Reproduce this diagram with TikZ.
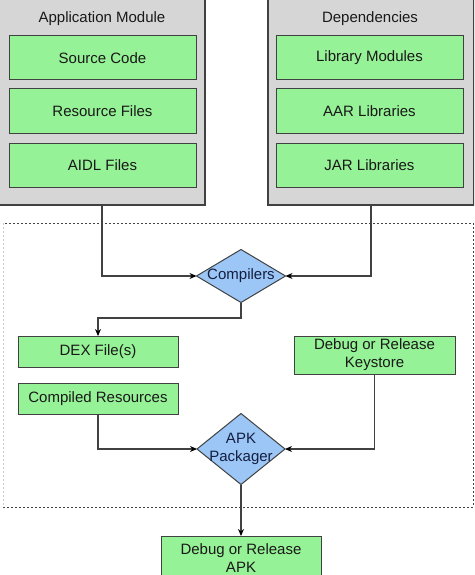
\documentclass[tikz,border=0pt]{standalone}
\usepackage{fontspec}
\setmainfont{Liberation Sans}
\usepackage{tikz}
\usetikzlibrary{arrows.meta}
\usetikzlibrary{shapes.geometric}

\definecolor{boxgreen}{RGB}{150,242,150}
\definecolor{boxgrey}{RGB}{214,214,214}
\definecolor{diablue}{RGB}{155,198,245}
\definecolor{linegrey}{RGB}{65,65,65}
\definecolor{textnavy}{RGB}{20,30,65}

\begin{document}
\begin{tikzpicture}[x=1pt,y=-1pt,
    every node/.style={font=\fontsize{15}{18}\selectfont, text=black!90},
    module/.style={draw=linegrey, fill=boxgrey, line width=1.2pt, minimum width=206pt, minimum height=215pt, inner sep=0pt, outer sep=0pt},
    filebox/.style={draw=linegrey, fill=boxgreen, line width=1pt, minimum width=187pt, minimum height=44pt, inner sep=0pt, outer sep=0pt, align=center},
    outbox/.style={draw=linegrey, fill=boxgreen, line width=1pt, minimum width=160pt, minimum height=31pt, inner sep=0pt, outer sep=0pt, align=center},
    tool/.style={diamond, draw=linegrey, fill=diablue, line width=1pt, inner sep=0pt, outer sep=0pt},
    flow/.style={draw=linegrey, line width=1.1pt, -{Stealth[length=7pt,width=6pt,black]}}]
          \clip (0,0) rectangle (474,575);
          \fill[white] (0,0) rectangle (474,575);
          % build group
          \draw[linegrey, line width=0.9pt, dash pattern=on 2pt off 2pt] (3,507) -- (473,507) -- (473,223) -- (3,223);
          \draw[black!20, line width=0.9pt, dash pattern=on 2pt off 2pt] (3,223) -- (3,507);
          % Application Module
          \node[module] (appmod) at (102,97.5) {};
          \node (appmodtitle) at (102,19) {Application Module};
          \node[filebox] (src) at (102.5,58) {Source Code};
          \node[filebox] (res) at (102.5,111) {Resource Files};
          \node[filebox] (aidl) at (102.5,165) {AIDL Files};
          % Dependencies
          \node[module] (deps) at (371,97.5) {};
          \node (depstitle) at (370,19) {Dependencies};
          \node[filebox] (libmod) at (369.5,58) {Library Modules};
          \node[filebox] (aar) at (369.5,111) {AAR Libraries};
          \node[filebox] (jar) at (369.5,165) {JAR Libraries};
          % Compilers
          \node[tool, minimum width=89pt, minimum height=53pt,
                label={[text=textnavy]center:Compilers}] (comp) at (241,276) {};
          % outputs of the compilers
          \node[outbox] (dex) at (98,351.5) {DEX File(s)};
          \node[outbox] (cres) at (98,398.5) {Compiled Resources};
          \node[outbox, minimum width=161pt, minimum height=38pt] (keystore) at (374.5,355) {Debug or Release\\Keystore};
          % APK Packager
          \node[tool, minimum width=88pt, minimum height=71pt,
                label={[text=textnavy, align=center]center:APK\\Packager}] (pack) at (241,449) {};
          % final APK
          \node[outbox, minimum height=44pt] (apk) at (241,558) {Debug or Release\\APK};
          % line between modules and compilers
          \draw[flow] (appmod.south) |- (comp.west);
          \draw[flow] (deps.south) |- (comp.east);
          % line between compilers and DEX
          \coordinate (bend) at (241,318);
          \draw[flow] (comp.south) -- (bend) -| (dex.north);
          % lines into the packager
          \draw[flow] (cres.south) |- (pack.west);
          \draw[flow] (keystore.south) |- (pack.east);
          % line between packager and APK
          \draw[flow] (pack.south) -- (apk.north);
        \end{tikzpicture}
\end{document}
